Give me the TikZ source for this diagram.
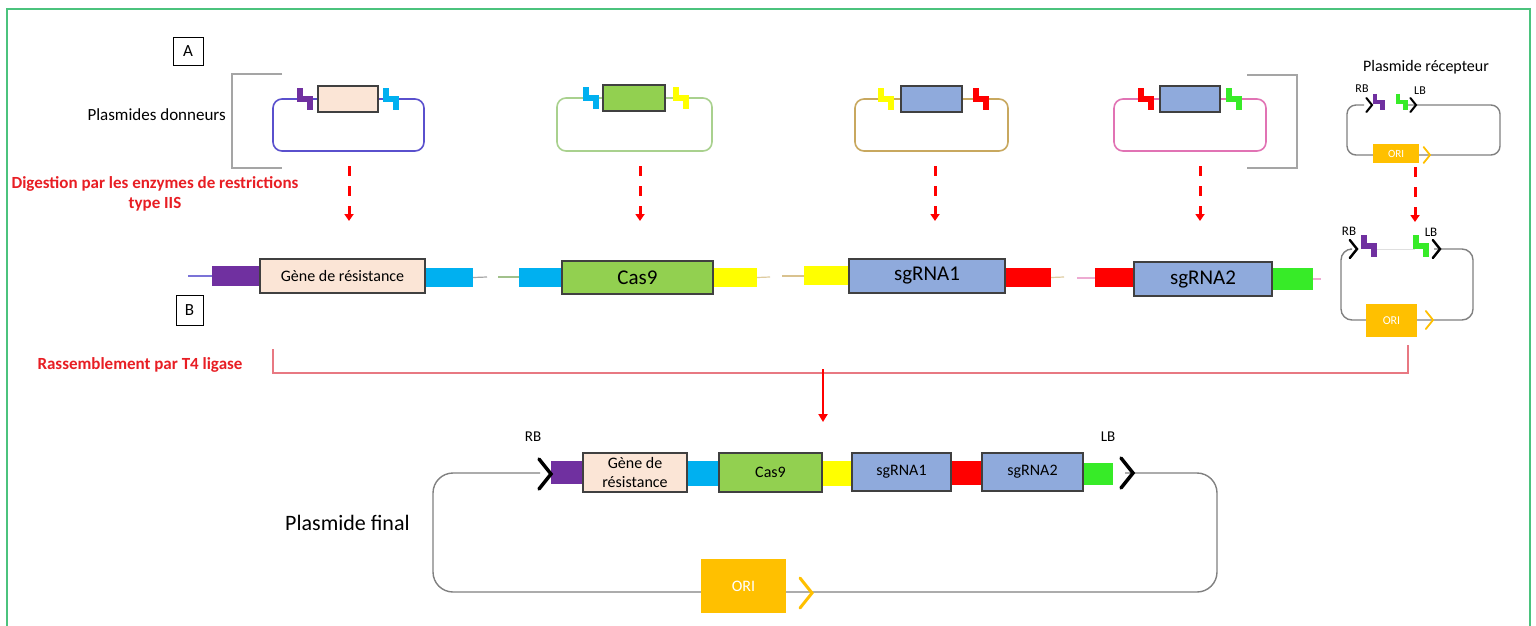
\documentclass[tikz,border=0pt]{standalone}
\usepackage{fontspec}
\setmainfont{Carlito}
\usetikzlibrary{arrows.meta}
\definecolor{purp}{HTML}{7030A0}
\definecolor{cyanb}{HTML}{00B0F0}
\definecolor{yel}{HTML}{FFFF00}
\definecolor{redb}{HTML}{FF0000}
\definecolor{grn}{RGB}{55,235,40}
\definecolor{peach}{HTML}{FBE5D6}
\definecolor{casg}{HTML}{92D050}
\definecolor{blueb}{HTML}{8FAADC}
\definecolor{orng}{HTML}{FFC000}
\definecolor{bord}{HTML}{404040}
\definecolor{lpa}{RGB}{90,80,205}
\definecolor{lpb}{HTML}{A9D18E}
\definecolor{lpc}{RGB}{200,168,95}
\definecolor{lpd}{RGB}{225,115,180}
\definecolor{lgray}{RGB}{128,128,128}
\definecolor{brk}{RGB}{165,165,165}
\definecolor{framec}{RGB}{75,195,125}
\definecolor{txtred}{RGB}{232,30,36}
\definecolor{lred}{RGB}{232,120,130}
\newcommand\bx[7]{\node[#1, minimum width={#5-#3}, minimum height={#6-#4}] (#2) at ({(#3+#5)/2},{(#4+#6)/2}) {#7};}
\newcommand\zstep[4]{\draw[#1, line width=#4*6pt, line cap=butt] ({#2-#4*5},{#3-#4*11}) -- ({#2-#4*5},{#3}) -- ({#2+#4*5},{#3}) -- ({#2+#4*5},{#3+#4*11});}
\newcommand\chev[5]{\draw[#1, line width=#5, line cap=round, line join=miter] ({#2-#4*0.8},{#3-#4}) -- (#2,#3) -- ({#2-#4*0.8},{#3+#4});}
\begin{document}
\begin{tikzpicture}[x=1pt,y=-1pt,
  seg/.style={fill=#1, draw=none, inner sep=0pt},
  gbox/.style={fill=#1, draw=bord, line width=1.3pt, inner sep=0pt, align=center},
  fs/.style={font=\fontsize{#1}{19}\selectfont},
  lbl/.style={inner sep=0pt, font=\fontsize{#1}{#1}\selectfont},
  redlbl/.style={inner sep=0pt, text=txtred, font=\fontsize{17}{20}\selectfont\bfseries, align=center},
  letterbox/.style={draw=black, line width=0.9pt, inner sep=0pt, font=\fontsize{17}{17}\selectfont},
  loop/.style={draw=#1, line width=1.6pt, rounded corners=9pt},
  dasharrow/.style={draw=redb, line width=3pt, dash pattern=on 10pt off 10pt, -{Triangle[width=9pt,length=7pt]}},
  bracket/.style={draw=brk, line width=1.6pt},
  thin/.style={draw=#1, line width=1.2pt},
  oribox/.style={fill=orng, draw=none, text=white, inner sep=0pt, font=\fontsize{#1}{#1}\selectfont}
]
\useasboundingbox (0,0) rectangle (1536,625);
\fill[white] (0,0) rectangle (1536,625);
\draw[framec, line width=1.8pt] (7,630) -- (7,9) -- (1530,9) -- (1530,630);

% ---------- labels A / B ----------
\bx{letterbox}{boxA}{173}{37}{203}{65}{A}
\bx{letterbox}{boxB}{176}{295}{203}{325}{B}

\node[lbl=17, anchor=east] (donneurs) at (226,115) {Plasmides donneurs};
\draw[bracket] (282,74) -- (232,74) -- (232,168) -- (282,168);
\draw[bracket] (1247,75) -- (1297,75) -- (1297,168) -- (1247,168);

\node[redlbl] (digest) at (155,194) {Digestion par les enzymes de restrictions\\type IIS};
\node[redlbl] (rassemb) at (140,365) {Rassemblement par T4 ligase};

% ---------- donor plasmids ----------
\draw[loop=lpa] (273,99) rectangle (424,151);
\bx{gbox=peach}{ga}{318}{86}{378}{112}{}
\zstep{purp}{304.5}{99}{1}
\zstep{cyanb}{390.5}{99}{1}

\draw[loop=lpb] (557,98) rectangle (712,151);
\bx{gbox=casg}{gb}{603}{85}{665}{111}{}
\zstep{cyanb}{590.5}{98}{1}
\zstep{yel}{680.5}{98}{1}

\draw[loop=lpc] (855,99) rectangle (1008,151);
\bx{gbox=blueb}{gc}{901}{86}{962}{112}{}
\zstep{yel}{885.5}{99}{1}
\zstep{redb}{981}{99}{1}

\draw[loop=lpd] (1114,99) rectangle (1266,151);
\bx{gbox=blueb}{gd}{1160}{86}{1220}{112}{}
\zstep{redb}{1145.5}{99}{1}
\zstep{grn}{1234}{99}{1}

% ---------- receptor plasmid (top) ----------
\node[lbl=16] (recept) at (1426,67) {Plasmide récepteur};
\draw[draw=lgray, line width=1.4pt, rounded corners=9pt] (1364,105) -- (1347,105) -- (1347,155) -- (1500,155) -- (1500,105) -- (1408,105);
\chev{black}{1372}{105}{7}{2pt}
\zstep{purp}{1378.5}{102}{0.75}
\zstep{grn}{1401.5}{102}{0.75}
\chev{black}{1416}{105}{7}{2pt}
\node[lbl=12] (rbA) at (1362,89) {RB};
\node[lbl=12] (lbA) at (1420,91) {LB};
\bx{oribox=11}{oriA}{1373}{144}{1419}{163}{ORI}
\chev{orng}{1430}{155}{8}{1.8pt}

% ---------- dashed digestion arrows ----------
\coordinate (da1) at (349,166); \coordinate (db1) at (349,221);
\coordinate (da2) at (640,166); \coordinate (db2) at (640,221);
\coordinate (da3) at (935,166); \coordinate (db3) at (935,221);
\coordinate (da4) at (1200,166); \coordinate (db4) at (1200,221);
\coordinate (da5) at (1415,167); \coordinate (db5) at (1415,222);
\foreach \i in {1,...,5} {\draw[dasharrow] (da\i) -- (db\i);}

% ---------- middle row: digested fragments ----------
\coordinate (m1a) at (188,276); \coordinate (m1b) at (212,276);
\draw[thin=lpa!80] (m1a) -- (m1b);
\bx{seg=purp}{s1a}{212}{266}{260}{286}{}
\bx{gbox=peach, fs=16}{f1}{260}{259}{425}{293}{Gène de résistance}
\bx{seg=cyanb}{s1b}{426}{268}{473}{287}{}
\coordinate (m1c) at (487,277);
\draw[thin=lgray!70] (s1b.east) -- (m1c);

\coordinate (m2a) at (498,277);
\draw[thin=lpb!80!gray] (m2a) -- (519,277);
\bx{seg=cyanb}{s2a}{519}{268}{562}{287}{}
\bx{gbox=casg, fs=21}{f2}{562}{261}{713}{294}{Cas9}
\bx{seg=yel}{s2b}{714}{268}{757}{287}{}
\coordinate (m2c) at (770,277);
\draw[thin=lpc!60] (s2b.east) -- (m2c);

\coordinate (m3a) at (782,276);
\draw[thin=lpc!70] (m3a) -- (804,276);
\bx{seg=yel}{s3a}{804}{266}{849}{285}{}
\bx{gbox=blueb, fs=21}{f3}{849}{259}{1005}{293}{sgRNA1}
\bx{seg=redb}{s3b}{1006}{268}{1051}{287}{}
\coordinate (m3c) at (1064,277);
\draw[thin=lpc!60] (s3b.east) -- (m3c);

\coordinate (m4a) at (1077,278);
\draw[thin=lpd!60] (m4a) -- (1095,278);
\bx{seg=redb}{s4a}{1095}{268}{1134}{287}{}
\bx{gbox=blueb, fs=21}{f4}{1134}{262}{1272}{296}{sgRNA2}
\bx{seg=grn}{s4b}{1273}{268}{1313}{290}{}
\coordinate (m4c) at (1321,279);
\draw[thin=lpd!60] (s4b.east) -- (m4c);

% ---------- receptor plasmid (middle) ----------
\draw[draw=lgray, line width=1.4pt, rounded corners=11pt] (1350,249) -- (1341,249) -- (1341,320) -- (1473,320) -- (1473,249) -- (1434,249);
\draw[draw=lgray!25, line width=1pt] (1374,249) -- (1415,249);
\chev{black}{1357}{249}{9}{2.4pt}
\zstep{purp}{1369}{246}{1}
\zstep{grn}{1420.5}{246}{1}
\chev{black}{1440}{249}{9}{2.4pt}
\node[lbl=13] (rbB) at (1349,231) {RB};
\node[lbl=13] (lbB) at (1431,232) {LB};
\bx{oribox=12}{oriB}{1366}{304}{1417}{337}{ORI}
\chev{orng}{1433}{320}{9}{1.8pt}

% ---------- assembly line and arrow ----------
\coordinate (r1) at (273,349);
\coordinate (r2) at (1408,345);
\draw[draw=lred, line width=1.2pt] (r1) -- (273,373) -- (1408,373) -- (r2);
\coordinate (ar1) at (823,369);
\coordinate (ar2) at (823,422);
\draw[draw=redb, line width=2.5pt, -{Triangle[width=9pt,length=8pt]}] (ar1) -- (ar2);

% ---------- final plasmid ----------
\node[lbl=22, anchor=west] (final) at (285,523) {Plasmide final};
\draw[draw=lgray, line width=1.4pt, rounded corners=20pt] (540,473) -- (433,473) -- (433,592) -- (1217,592) -- (1217,473) -- (1125,473);
\bx{seg=purp}{t1}{551}{461}{583}{484}{}
\bx{gbox=peach, fs=16}{u1}{583}{453}{687}{492}{Gène de\\résistance}
\bx{seg=cyanb}{t2}{688}{461}{719}{486}{}
\bx{gbox=casg, fs=16}{u2}{719}{453}{822}{492}{Cas9}
\bx{seg=yel}{t3}{823}{461}{852}{486}{}
\bx{gbox=blueb, fs=16}{u3}{852}{453}{951}{491}{sgRNA1}
\bx{seg=redb}{t4}{952}{461}{982}{485}{}
\bx{gbox=blueb, fs=16}{u4}{982}{453}{1083}{491}{sgRNA2}
\bx{seg=grn}{t5}{1084}{463}{1113}{485}{}
\chev{black}{551}{474}{15}{3.5pt}
\chev{black}{1133}{473}{15}{3.5pt}
\node[lbl=15] (rbC) at (533,437) {RB};
\node[lbl=15] (lbC) at (1108,437) {LB};
\bx{oribox=16}{oriC}{701}{559}{786}{613}{ORI}
\chev{orng}{812}{593}{15}{3pt}
\end{tikzpicture}
\end{document}
